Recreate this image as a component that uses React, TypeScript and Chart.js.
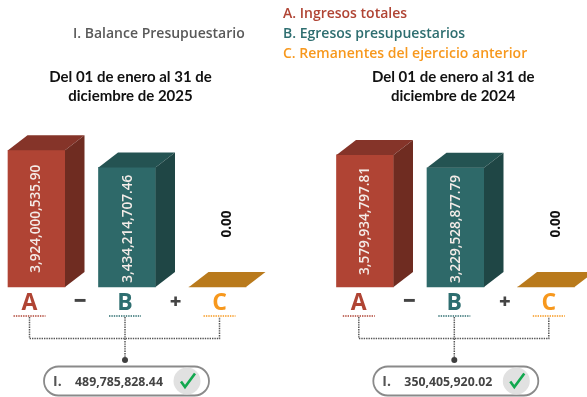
import React, { useEffect, useRef } from "react";
import { Chart, registerables } from "chart.js";

Chart.register(...registerables);

const categories = ["A", "B", "C"];
const values2025 = [3924000535.9, 3434214707.46, 0];
const values2024 = [3579934797.81, 3229528877.79, 0];
const result2025 = 489785828.44;
const result2024 = 350405920.02;
const periodLines2025 = ["Del 01 de enero al 31 de", "diciembre de 2025"];
const periodLines2024 = ["Del 01 de enero al 31 de", "diciembre de 2024"];
const pageTitle = "I. Balance Presupuestario";
const legendLabels = ["A. Ingresos totales", "B. Egresos presupuestarios", "C. Remanentes del ejercicio anterior"];
const resultLetter = "I.";
const operators = ["−", "+"];

const frontColors = ["#B04434", "#2E6969", "#B97A1C"];
const topColors = ["#853429", "#245352", "#B97A1C"];
const sideColors = ["#6F2C21", "#1F4645", "#B97A1C"];
const letterColors = ["#B04434", "#2E6E70", "#F7981D"];

const W = 587;
const H = 397;
const DEPTH_X = 19.5;
const DEPTH_Y = 15;
const BASE_Y = 287;
const UI_FONT = '"Open Sans"';
const TITLE_FONT = "Lato";

const fmt = (v: number) =>
  v.toLocaleString("en-US", { minimumFractionDigits: 2, maximumFractionDigits: 2 });

function poly(ctx: CanvasRenderingContext2D, pts: number[][], fill: string) {
  ctx.beginPath();
  pts.forEach(([x, y], i) => (i ? ctx.lineTo(x, y) : ctx.moveTo(x, y)));
  ctx.closePath();
  ctx.fillStyle = fill;
  ctx.fill();
}

function text(
  ctx: CanvasRenderingContext2D,
  s: string,
  x: number,
  y: number,
  font: string,
  color: string,
  align: CanvasTextAlign = "center"
) {
  ctx.font = font;
  ctx.fillStyle = color;
  ctx.textAlign = align;
  ctx.textBaseline = "middle";
  ctx.fillText(s, x, y);
}

function dotted(ctx: CanvasRenderingContext2D, pts: number[][], color: string, width = 1.5) {
  ctx.save();
  ctx.setLineDash([1.4, 1]);
  ctx.lineWidth = width;
  ctx.strokeStyle = color;
  ctx.beginPath();
  pts.forEach(([x, y], i) => (i ? ctx.lineTo(x, y) : ctx.moveTo(x, y)));
  ctx.stroke();
  ctx.restore();
}

const barExtras = {
  id: "barExtras",
  afterDatasetsDraw(chart: any, _a: any, opts: any) {
    const ctx: CanvasRenderingContext2D = chart.ctx;
    const meta = chart.getDatasetMeta(0);
    const values: number[] = chart.data.datasets[0].data;
    const ox: number = opts.offsetX;
    ctx.save();
    // 3D faces and value labels
    meta.data.forEach((bar: any, i: number) => {
      const l = bar.x - bar.width / 2;
      const r = bar.x + bar.width / 2;
      const t = bar.y;
      const b = bar.base;
      poly(ctx, [[l, t], [l + DEPTH_X, t - DEPTH_Y], [r + DEPTH_X, t - DEPTH_Y], [r, t]], topColors[i]);
      if (values[i] > 0) {
        poly(ctx, [[r, t], [r + DEPTH_X, t - DEPTH_Y], [r + DEPTH_X, b - DEPTH_Y], [r, b]], sideColors[i]);
      }
      ctx.save();
      if (values[i] > 0) {
        ctx.translate(bar.x + (i === 0 ? 0 : 1), (t + b) / 2 + (i === 0 ? 0 : 1.5));
        ctx.rotate(-Math.PI / 2);
        text(ctx, fmt(values[i]), 0, 0, `600 13.6px ${UI_FONT}`, "#F4ECE8");
      } else {
        ctx.translate(bar.x + 10, 224);
        ctx.rotate(-Math.PI / 2);
        text(ctx, fmt(values[i]), 0, 0, `700 13.6px ${UI_FONT}`, "#111111");
      }
      ctx.restore();
    });

    // Period caption
    (opts.period as string[]).forEach((line, i) => {
      text(ctx, line, 130.5 + ox * 0.98, 77 + i * 19.5, `700 15px ${TITLE_FONT}`, "#111111");
    });

    // Formula letters with their underlines
    const letterX = [29.5 + ox, 125 + ox, 219.5 + ox];
    categories.forEach((c, i) => {
      text(ctx, c, letterX[i], 303, `700 23px ${UI_FONT}`, letterColors[i]);
      dotted(ctx, [[letterX[i] - 16, 316], [letterX[i] + 16, 316]], letterColors[i]);
    });
    text(ctx, operators[0], 80 + ox, 302, `800 22px ${UI_FONT}`, "#444444");
    text(ctx, operators[1], 175.5 + ox, 302, `800 20px ${UI_FONT}`, "#444444");

    // Connector
    const c = "#555555";
    dotted(ctx, [[letterX[0], 317], [letterX[0], 338.5], [letterX[2], 338.5], [letterX[2], 317]], c);
    dotted(ctx, [[letterX[1], 317], [letterX[1], 358]], c);
    ctx.beginPath();
    ctx.arc(letterX[1], 360, 3, 0, Math.PI * 2);
    ctx.fillStyle = "#3F3F3F";
    ctx.fill();

    // Result pill
    const px = 44 + ox;
    const pw = 165;
    ctx.beginPath();
    ctx.roundRect(px, 366.5, pw, 29, 14.5);
    ctx.fillStyle = "#FFFFFF";
    ctx.fill();
    ctx.lineWidth = 1.8;
    ctx.strokeStyle = "#8A8A8A";
    ctx.stroke();
    ctx.beginPath();
    ctx.arc(px + 143, 381, 13.5, 0, Math.PI * 2);
    ctx.fillStyle = "#E1E1E1";
    ctx.fill();
    ctx.beginPath();
    ctx.moveTo(px + 137, 381.5);
    ctx.lineTo(px + 141, 387);
    ctx.lineTo(px + 151, 373.5);
    ctx.lineWidth = 2.6;
    ctx.strokeStyle = "#12A84F";
    ctx.stroke();
    text(ctx, resultLetter, px + 9, 382, `700 14px ${UI_FONT}`, "#555555", "left");
    text(ctx, fmt(opts.result), px + 75, 382, `700 12.3px ${UI_FONT}`, "#444444");

    // Page heading and legend
    if (opts.showHeader) {
      text(ctx, pageTitle, 73, 34, `600 14px ${UI_FONT}`, "#595959", "left");
      legendLabels.forEach((s, i) => {
        text(ctx, s, 283, 14.5 + i * 19.6, `600 14px ${UI_FONT}`, letterColors[i], "left");
      });
    }
    ctx.restore();
  },
};

function makeConfig(values: number[], firstCenter: number, period: string[], result: number, offsetX: number, showHeader: boolean, topPad: number): any {
  return {
    type: "bar",
    data: {
      labels: categories,
      datasets: [
        {
          data: values,
          backgroundColor: frontColors,
          barThickness: 57,
          borderWidth: 0,
          clip: false,
        },
      ],
    },
    plugins: [barExtras],
    options: {
      responsive: false,
      animation: false,
      layout: {
        padding: {
          left: firstCenter,
          right: W - (firstCenter + 181),
          top: topPad,
          bottom: H - BASE_Y,
        },
      },
      scales: {
        x: { display: false, offset: false },
        y: { display: false, min: 0, max: 4000000000 },
      },
      plugins: {
        legend: { display: false },
        title: { display: false },
        tooltip: { enabled: false },
        barExtras: { period, result, offsetX, showHeader },
      },
    },
  };
}

function BalancePanel(props: { values: number[]; firstCenter: number; period: string[]; result: number; offsetX: number; showHeader: boolean; topPad: number }) {
  const ref = useRef<HTMLCanvasElement>(null);
  useEffect(() => {
    const chart = new Chart(
      ref.current!,
      makeConfig(props.values, props.firstCenter, props.period, props.result, props.offsetX, props.showHeader, props.topPad)
    );
    return () => chart.destroy();
  }, []);
  return (
    <canvas
      ref={ref}
      width={W}
      height={H}
      style={{ position: "absolute", left: 0, top: 0, width: W, height: H }}
    />
  );
}

export default function App() {
  return (
    <div style={{ position: "absolute", left: 0, top: 0, width: W, height: H, background: "#fff", overflow: "hidden" }}>
      <BalancePanel values={values2025} firstCenter={36.5} period={periodLines2025} result={result2025} offsetX={0} showHeader={true} topPad={147.7} />
      <BalancePanel values={values2024} firstCenter={365} period={periodLines2024} result={result2024} offsetX={329.3} showHeader={false} topPad={139.4} />
    </div>
  );
}
